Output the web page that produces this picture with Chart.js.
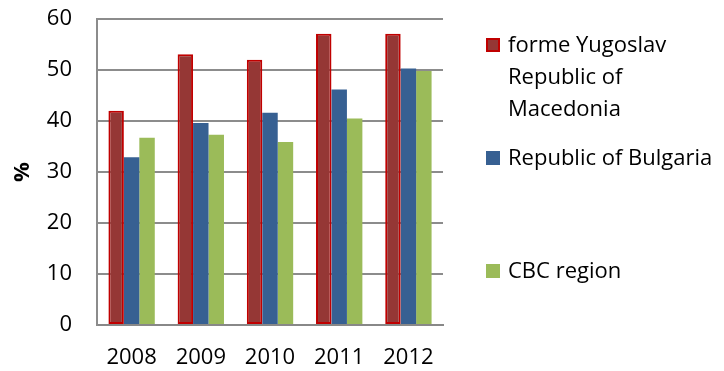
<!DOCTYPE html>
<html>
<head>
<meta charset="utf-8">
<script src="https://cdn.jsdelivr.net/npm/chart.js@4.4.0/dist/chart.umd.min.js"></script>
<style>
  html, body { margin: 0; padding: 0; background: #fff; }
</style>
</head>
<body>
<canvas id="chart" width="724" height="371"></canvas>
<script>
// yearly shares, %
const years = ['2008', '2009', '2010', '2011', '2012'];
const macedonia = [42.0, 53.1, 52.0, 57.1, 57.1];
const bulgaria = [32.9, 39.6, 41.6, 46.2, 50.3];
const cbcRegion = [36.7, 37.3, 35.9, 40.5, 49.8];
const seriesLabels = [
    ['forme Yugoslav', 'Republic of', 'Macedonia'],
    ['Republic of Bulgaria'],
    ['CBC region']
];
const yMin = 0, yMax = 60, yStep = 10;

const FONT = "'Open Sans', 'DejaVu Sans', sans-serif";
const FONT_SIZE = 22;

// legend on the right, one box + wrapped text per series
const sideLegend = {
    id: 'sideLegend',
    afterDraw(chart) {
        const ctx = chart.ctx;
        const left = chart.chartArea.right + 43;
        ctx.save();
        ctx.font = FONT_SIZE + 'px ' + FONT;
        ctx.textBaseline = 'middle';
        chart.data.datasets.forEach((ds, i) => {
            const top = 38 + i * 113;
            ctx.fillStyle = ds.backgroundColor;
            ctx.fillRect(left, top, 14, 14);
            if (ds.borderWidth) {
                ctx.strokeStyle = ds.borderColor;
                ctx.lineWidth = 2;
                ctx.strokeRect(left + 1, top + 1, 12, 12);
            }
            ctx.fillStyle = '#000';
            seriesLabels[i].forEach((line, j) => {
                ctx.fillText(line, left + 22, top + 8 + j * 32);
            });
        });
        ctx.restore();
    }
};

new Chart(document.getElementById('chart'), {
    type: 'bar',
    data: {
        labels: years,
        datasets: [
            {
                label: seriesLabels[0].join(' '),
                data: macedonia,
                backgroundColor: '#953735',
                borderColor: '#C00000',
                borderWidth: 2,
                borderSkipped: false
            },
            {
                label: seriesLabels[1].join(' '),
                data: bulgaria,
                backgroundColor: '#376092',
                borderWidth: 0
            },
            {
                label: seriesLabels[2].join(' '),
                data: cbcRegion,
                backgroundColor: '#9BBB59',
                borderWidth: 0
            }
        ]
    },
    options: {
        responsive: false,
        animation: false,
        devicePixelRatio: 1,
        categoryPercentage: 0.67,
        barPercentage: 1.0,
        layout: { padding: { top: 19, right: 281, left: 0, bottom: 0 } },
        plugins: {
            legend: { display: false },
            tooltip: { enabled: false }
        },
        scales: {
            x: {
                grid: { display: false },
                border: { color: '#888', width: 2 },
                ticks: { color: '#000', font: { family: FONT, size: FONT_SIZE }, padding: 12 },
                afterFit(scale) { scale.height = 46; }
            },
            y: {
                min: yMin,
                max: yMax,
                ticks: { stepSize: yStep, color: '#000', font: { family: FONT, size: FONT_SIZE }, padding: 25 },
                grid: { color: '#8c8c8c', lineWidth: 2, drawTicks: false },
                border: { color: '#8c8c8c', width: 2 },
                title: {
                    display: true,
                    text: '%',
                    color: '#000',
                    font: { family: FONT, size: FONT_SIZE, weight: 'bold' },
                    padding: { top: 10, bottom: 0 }
                },
                afterFit(scale) {
                    scale.width = 97;
                    scale.paddingTop = 0;
                    scale.paddingBottom = 0;
                }
            }
        }
    },
    plugins: [sideLegend]
});
</script>
</body>
</html>
